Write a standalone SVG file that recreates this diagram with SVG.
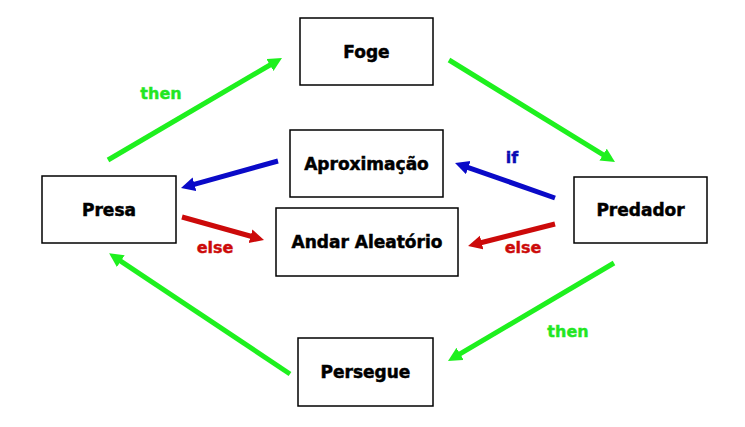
<svg xmlns="http://www.w3.org/2000/svg" width="745" height="427" viewBox="0 0 745 427">
<style>
.box{fill:#fff;stroke:#000;stroke-width:1.5}
.t{font-family:"DejaVu Sans","Liberation Sans",sans-serif;font-weight:bold;font-size:17px;text-anchor:middle;fill:#000;stroke:#000;stroke-width:0.5}
.lbl{font-family:"DejaVu Sans","Liberation Sans",sans-serif;font-weight:bold;font-size:16px;stroke-width:0.4}
.g{stroke:#1ef01e;stroke-width:5;fill:none}
.b{stroke:#0a0ac8;stroke-width:5;fill:none}
.r{stroke:#cc0a0a;stroke-width:5;fill:none}
</style>
<defs>
<marker id="ag" markerUnits="userSpaceOnUse" markerWidth="16" markerHeight="16" refX="6" refY="7" orient="auto"><path d="M0,0 L14,7 L0,14 z" fill="#1ef01e"/></marker>
<marker id="ab" markerUnits="userSpaceOnUse" markerWidth="16" markerHeight="16" refX="6" refY="7" orient="auto"><path d="M0,0 L14,7 L0,14 z" fill="#0a0ac8"/></marker>
<marker id="ar" markerUnits="userSpaceOnUse" markerWidth="16" markerHeight="16" refX="6" refY="7" orient="auto"><path d="M0,0 L14,7 L0,14 z" fill="#cc0a0a"/></marker>
</defs>
<rect width="745" height="427" fill="#fff"/>
<g id="connectors">
<line class="g" x1="108" y1="160" x2="275.1" y2="62" marker-end="url(#ag)"/>
<line class="g" x1="449" y1="60" x2="608.2" y2="157.8" marker-end="url(#ag)"/>
<line class="g" x1="614" y1="263" x2="454.9" y2="356.9" marker-end="url(#ag)"/>
<line class="g" x1="290" y1="374" x2="115.8" y2="257.8" marker-end="url(#ag)"/>
<line class="b" x1="278" y1="161" x2="188.7" y2="185.9" marker-end="url(#ab)"/>
<line class="b" x1="555" y1="198" x2="462.6" y2="165.6" marker-end="url(#ab)"/>
<line class="r" x1="182" y1="217" x2="256.3" y2="237.8" marker-end="url(#ar)"/>
<line class="r" x1="555" y1="224" x2="475.8" y2="244" marker-end="url(#ar)"/>
<text class="lbl" x="161" y="99" text-anchor="middle" fill="#22e622" stroke="#22e622">then</text>
<text class="lbl" x="568" y="337" text-anchor="middle" fill="#22e622" stroke="#22e622">then</text>
<text class="lbl" x="512" y="163" text-anchor="middle" fill="#0a0ab4" stroke="#0a0ab4">if</text>
<text class="lbl" x="215" y="253" text-anchor="middle" fill="#cc0a0a" stroke="#cc0a0a">else</text>
<text class="lbl" x="523" y="253" text-anchor="middle" fill="#cc0a0a" stroke="#cc0a0a">else</text>
</g>
<g id="foge"><rect class="box" x="300" y="18" width="133" height="67"/><text class="t" x="366.5" y="58">Foge</text></g>
<g id="presa"><rect class="box" x="42" y="176" width="134" height="67"/><text class="t" x="109" y="216">Presa</text></g>
<g id="aproximacao"><rect class="box" x="290" y="130" width="153" height="67"/><text class="t" x="366.5" y="170">Aproximação</text></g>
<g id="andar"><rect class="box" x="276" y="208" width="182" height="68"/><text class="t" x="367" y="248">Andar Aleatório</text></g>
<g id="predador"><rect class="box" x="574" y="177" width="133" height="66"/><text class="t" x="640.5" y="216">Predador</text></g>
<g id="persegue"><rect class="box" x="298" y="338" width="135" height="68"/><text class="t" x="365.5" y="378">Persegue</text></g>
</svg>
